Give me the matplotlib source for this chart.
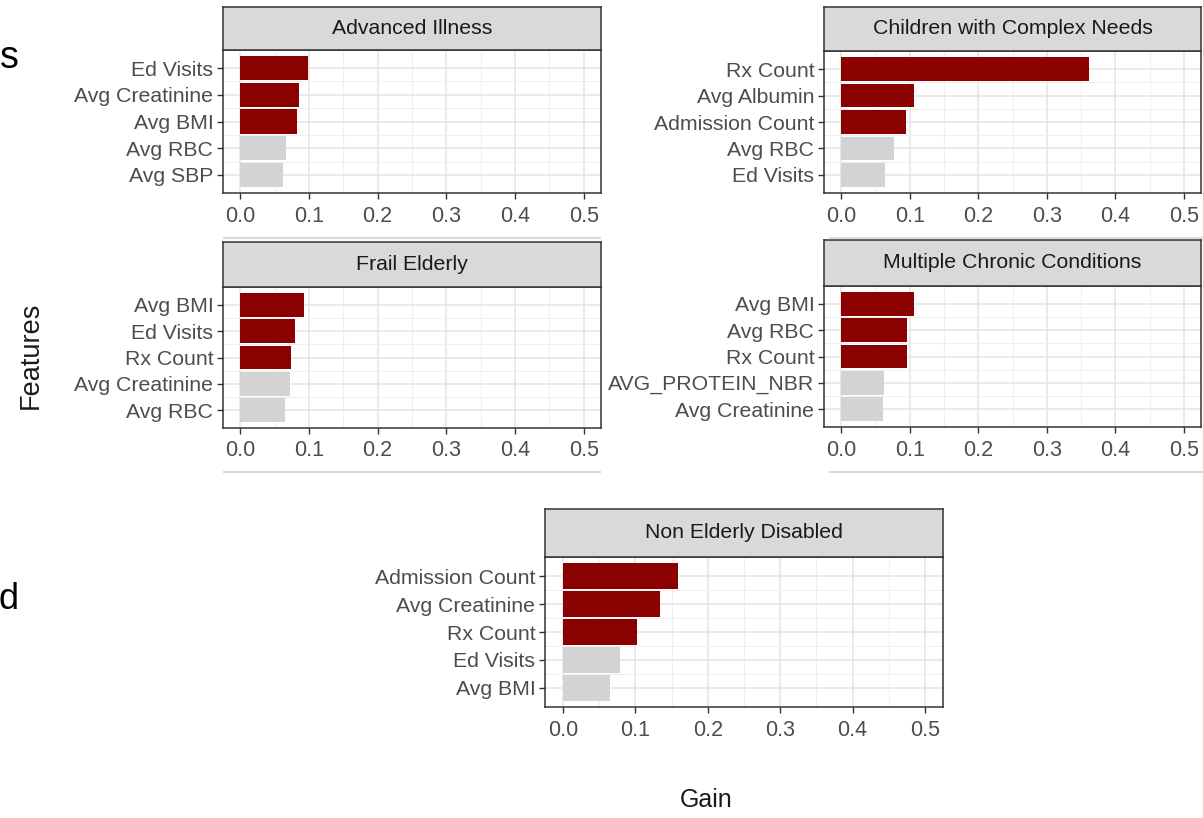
import numpy as np
import matplotlib
matplotlib.use("Agg")
import matplotlib.pyplot as plt

plt.rcParams['font.family'] = ['Liberation Sans', 'DejaVu Sans']

# ---------------- data ----------------
titles = ["Advanced Illness", "Children with Complex Needs", "Frail Elderly",
          "Multiple Chronic Conditions", "Non Elderly Disabled"]

feat_advanced = ["Ed Visits", "Avg Creatinine", "Avg BMI", "Avg RBC", "Avg SBP"]
gain_advanced = [0.098, 0.085, 0.083, 0.067, 0.062]

feat_children = ["Rx Count", "Avg Albumin", "Admission Count", "Avg RBC", "Ed Visits"]
gain_children = [0.362, 0.107, 0.095, 0.077, 0.064]

feat_frail = ["Avg BMI", "Ed Visits", "Rx Count", "Avg Creatinine", "Avg RBC"]
gain_frail = [0.093, 0.080, 0.074, 0.072, 0.065]

feat_chronic = ["Avg BMI", "Avg RBC", "Rx Count", "AVG_PROTEIN_NBR", "Avg Creatinine"]
gain_chronic = [0.107, 0.096, 0.096, 0.063, 0.061]

feat_nonelderly = ["Admission Count", "Avg Creatinine", "Rx Count", "Ed Visits", "Avg BMI"]
gain_nonelderly = [0.159, 0.134, 0.1015, 0.078, 0.0655]

x_ticks = [0.0, 0.1, 0.2, 0.3, 0.4, 0.5]
x_tick_labels = ["0.0", "0.1", "0.2", "0.3", "0.4", "0.5"]
n_highlight = 3

features = [feat_advanced, feat_children, feat_frail, feat_chronic, feat_nonelderly]
gains = [gain_advanced, gain_children, gain_frail, gain_chronic, gain_nonelderly]

# ---------------- layout (pixels) ----------------
W, H = 1203, 818
# (left, strip_top, strip_bottom/panel_top, panel_bottom, right)
geom = [
    (223, 7, 50, 193, 601),
    (824, 7, 51, 193, 1201),
    (223, 242, 287, 428, 601),
    (824, 240, 286, 427, 1201),
    (545, 509, 557, 707, 943),
]

def rect(l, t, r, b):
    return [l / W, 1 - b / H, (r - l) / W, (b - t) / H]

RED = "#8B0000"
GREY = "#D3D3D3"
BORDER = "#333333"
TICKC = "#4D4D4D"

fig = plt.figure(figsize=(W / 100, H / 100), dpi=100)

for title, feats, vals, (l, st, pt, pb, r) in zip(titles, features, gains, geom):
    ax = fig.add_axes(rect(l, pt, r, pb))
    n = len(feats)
    ypos = np.arange(n)
    colors = [RED if i < n_highlight else GREY for i in range(n)]
    ax.barh(ypos, vals, height=0.9, color=colors, edgecolor="none", zorder=2)
    ax.set_xlim(-0.025, 0.525)
    ax.set_ylim(n - 1 + 0.68, -0.68)
    ax.set_yticks(ypos)
    ax.set_yticklabels(feats, fontsize=15.3, color=TICKC)
    ax.set_yticks(np.arange(n - 1) + 0.5, minor=True)
    ax.set_xticks(x_ticks)
    ax.set_xticklabels(x_tick_labels, fontsize=15.5, color=TICKC)
    ax.set_xticks(np.arange(0.05, 0.5, 0.1), minor=True)
    ax.grid(which="major", color="#E6E6E6", linewidth=1.2, zorder=0)
    ax.grid(which="minor", color="#EFEFEF", linewidth=0.8, zorder=0)
    ax.set_axisbelow(True)
    ax.tick_params(which="major", length=4, width=1, color=BORDER, pad=3)
    ax.tick_params(axis="x", which="major", pad=5)
    ax.tick_params(which="minor", length=0)
    for s in ax.spines.values():
        s.set_color(BORDER)
        s.set_linewidth(1.1)
    # strip
    sax = fig.add_axes(rect(l, st, r, pt))
    sax.set_facecolor("#D9D9D9")
    sax.set_xticks([])
    sax.set_yticks([])
    for s in sax.spines.values():
        s.set_color(BORDER)
        s.set_linewidth(1.1)
    sax.text(0.5, 0.5, title, ha="center", va="center", fontsize=15.3,
             color="#1A1A1A", transform=sax.transAxes)

# faint separator lines from the screenshot
for (x0, x1, y) in [(224, 600, 238), (830, 1203, 238), (224, 600, 472), (830, 1203, 472)]:
    fig.add_artist(plt.Line2D([x0 / W, x1 / W], [1 - y / H, 1 - y / H],
                              color="#DADADA", linewidth=1.5, transform=fig.transFigure))

fig.text(31 / W, 1 - 355 / H, "Features", rotation=90, ha="center", va="center",
         fontsize=19.5, color="#1A1A1A")
fig.text(706 / W, 1 - 800 / H, "Gain", ha="center", va="center",
         fontsize=18, color="#1A1A1A")
fig.text(0 / W, 1 - 58 / H, "s", ha="left", va="center", fontsize=27, color="black")
fig.text(-2 / W, 1 - 609 / H, "d", ha="left", va="baseline", fontsize=26, color="black")

fig.savefig("out.png", dpi=100, facecolor="white")
